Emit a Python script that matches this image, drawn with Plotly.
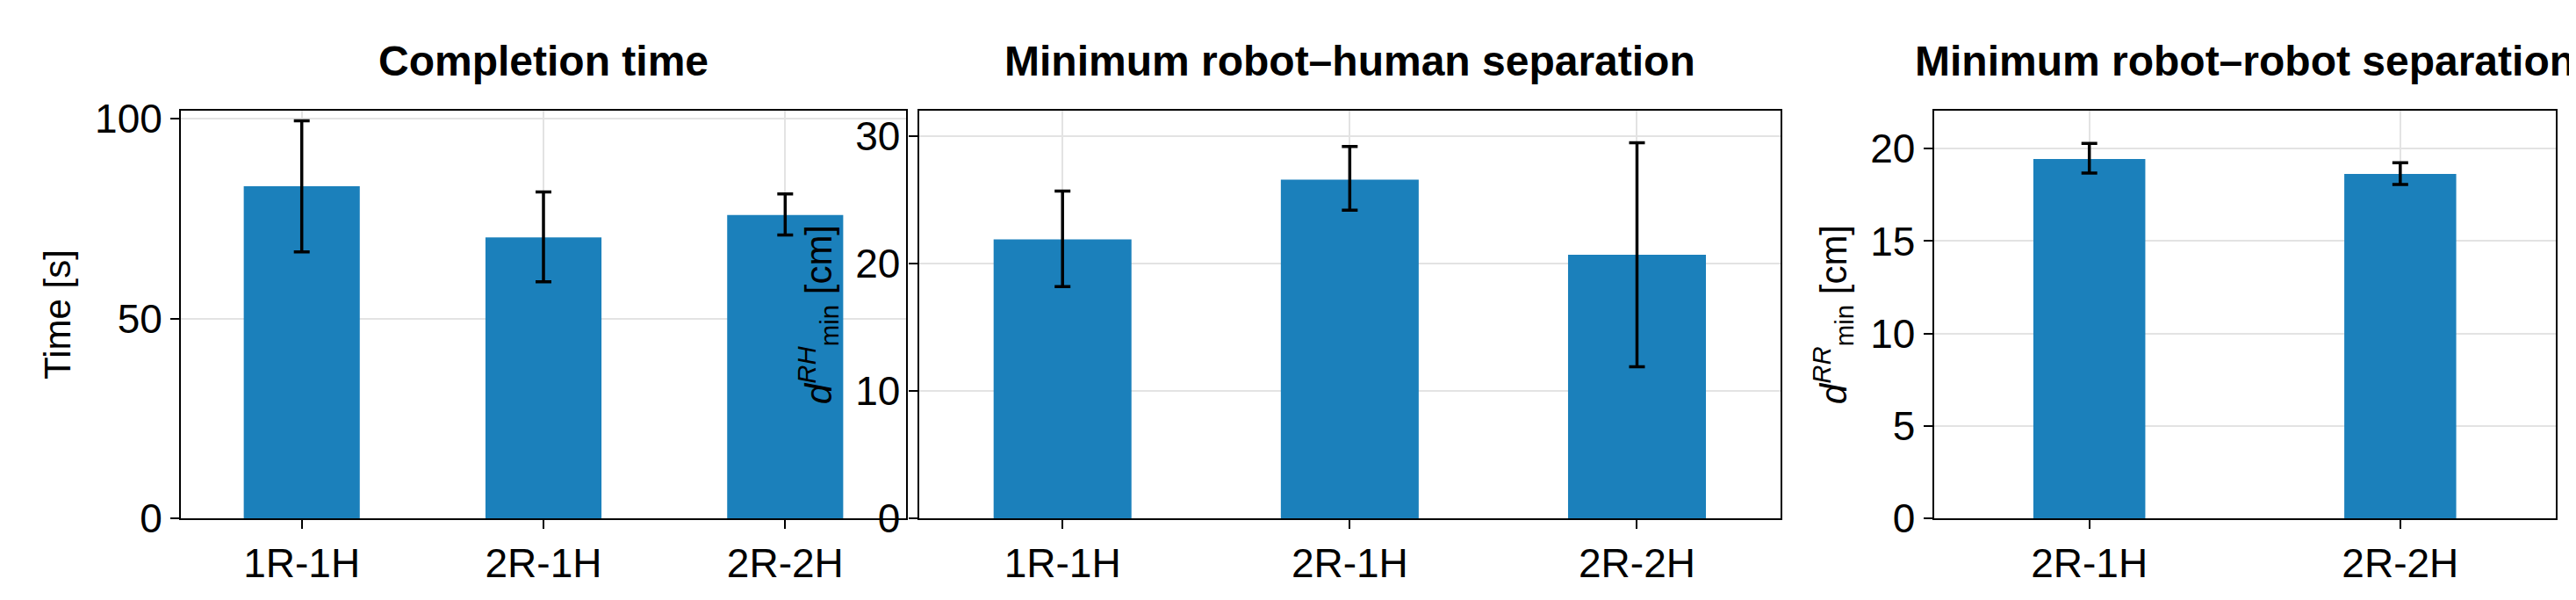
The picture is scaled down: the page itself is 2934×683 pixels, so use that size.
import plotly.graph_objects as go
from plotly.subplots import make_subplots

# Completion time
cats_time = ["1R-1H", "2R-1H", "2R-2H"]
time_mean = [83.1, 70.3, 75.9]
time_hi = [99.5, 81.7, 81.2]
time_lo = [66.7, 59.2, 70.9]

# Minimum robot-human separation
cats_rh = ["1R-1H", "2R-1H", "2R-2H"]
rh_mean = [21.9, 26.6, 20.7]
rh_hi = [25.7, 29.2, 29.5]
rh_lo = [18.2, 24.2, 11.9]

# Minimum robot-robot separation
cats_rr = ["2R-1H", "2R-2H"]
rr_mean = [19.44, 18.64]
rr_hi = [20.29, 19.24]
rr_lo = [18.68, 18.06]

titles = ["Completion time", "Minimum robot\u2013human separation", "Minimum robot\u2013robot separation"]
ytitles = ["Time [s]",
           "<i>d</i><sup><i>RH</i></sup><sub>min</sub> [cm]",
           "<i>d</i><sup><i>RR</i></sup><sub>min</sub> [cm]"]
yranges = [[0, 102], [0, 32], [0, 22.05]]
ydticks = [50, 10, 5]
widths = [0.48, 0.48, 0.36]

font = "Liberation Sans Narrow, Liberation Sans, Arial"
color = "#1b80bb"

fig = make_subplots(rows=1, cols=3)
data = [(cats_time, time_mean, time_hi, time_lo),
        (cats_rh, rh_mean, rh_hi, rh_lo),
        (cats_rr, rr_mean, rr_hi, rr_lo)]
for i, (c, m, hi, lo) in enumerate(data):
    fig.add_trace(go.Bar(
        x=c, y=m, width=widths[i], marker=dict(color=color, line=dict(width=0)),
        error_y=dict(type="data", symmetric=False,
                     array=[h - v for h, v in zip(hi, m)],
                     arrayminus=[v - l for l, v in zip(lo, m)],
                     color="black", thickness=3.5, width=9),
        showlegend=False), row=1, col=i + 1)

domains = [(0.0675, 0.349), (0.354, 0.6885), (0.748, 0.9894)]
for i in range(3):
    xa = "xaxis" if i == 0 else f"xaxis{i+1}"
    ya = "yaxis" if i == 0 else f"yaxis{i+1}"
    fig.layout[xa].update(domain=domains[i], showline=True, mirror=True, linecolor="black",
                          linewidth=2, ticks="outside", ticklen=10, tickwidth=2, tickcolor="black",
                          showgrid=True, gridcolor="#e3e3e3", gridwidth=2, automargin=False,
                          tickfont=dict(size=46, family=font, color="black"))
    fig.layout[ya].update(domain=[0.148, 0.827], range=yranges[i], dtick=ydticks[i],
                          showline=True, mirror=True, linecolor="black", linewidth=2,
                          ticks="outside", ticklen=10, tickwidth=2, tickcolor="black",
                          showgrid=True, gridcolor="#e3e3e3", gridwidth=2, zeroline=False,
                          automargin=False,
                          tickfont=dict(size=46, family=font, color="black"),
                          title=dict(text=ytitles[i], standoff=14,
                                     font=dict(size=42, family="Liberation Sans, Arial", color="black")))
    fig.add_annotation(text="<b>" + titles[i] + "</b>", xref="paper", yref="paper",
                       x=sum(domains[i]) / 2, y=0.91, xanchor="center", yanchor="middle",
                       showarrow=False, font=dict(size=48, family=font, color="black"))

fig.update_layout(width=2934, height=683, margin=dict(l=0, r=0, t=0, b=0),
                  plot_bgcolor="white", paper_bgcolor="white", bargap=0.5)
fig.write_html("out.html")
